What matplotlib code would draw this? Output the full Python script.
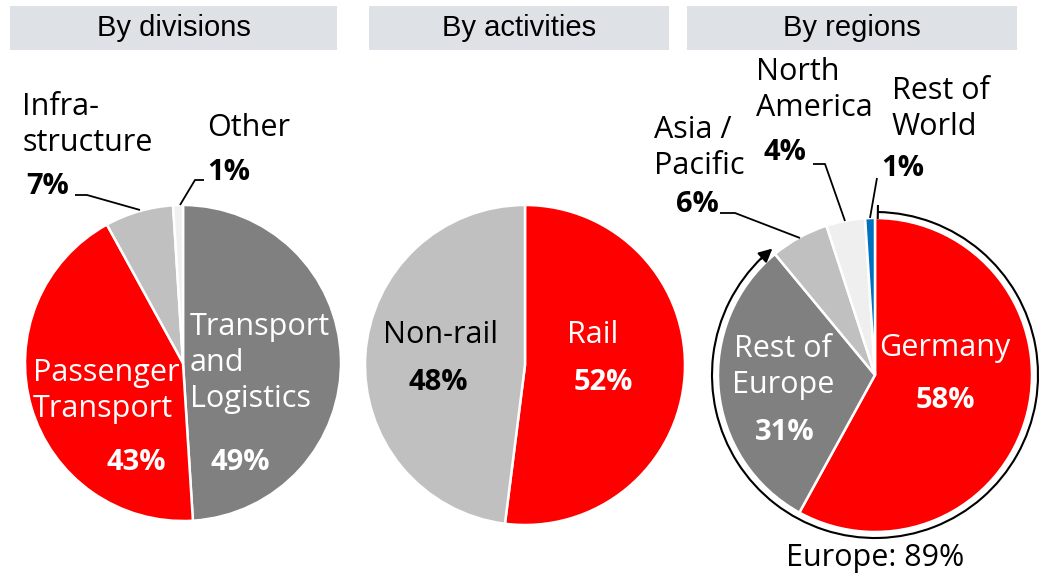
import matplotlib.pyplot as plt
from matplotlib.patches import Rectangle, Arc
import numpy as np

W, H = 1041, 576

# data
titles = ['By divisions', 'By activities', 'By regions']

div_labels = ['Transport and Logistics', 'Passenger Transport', 'Infrastructure', 'Other']
div_values = [49, 43, 7, 1]
div_colors = ['#808080', '#ff0000', '#c0c0c0', '#f0f0f0']

act_labels = ['Rail', 'Non-rail']
act_values = [52, 48]
act_colors = ['#ff0000', '#c0c0c0']

reg_labels = ['Germany', 'Rest of Europe', 'Asia / Pacific', 'North America', 'Rest of World']
reg_values = [58, 31, 6, 4, 1]
reg_colors = ['#ff0000', '#808080', '#c0c0c0', '#efefef', '#0070c0']
europe_share = 89

plt.rcParams['font.family'] = ['Open Sans', 'DejaVu Sans']

fig = plt.figure(figsize=(W / 100, H / 100), dpi=100)
ax = fig.add_axes([0, 0, 1, 1])


def Y(p):
    return H - p


def txt(x, y, s, color='black', bold=False, ha='center', size=None):
    if size is None:
        size = 21 if bold else 22
    ax.text(x, Y(y), s, color=color, ha=ha, va='center', fontsize=size,
            fontweight='bold' if bold else 'normal', linespacing=1.25)


def leader(pts):
    xs = [p[0] for p in pts]
    ys = [Y(p[1]) for p in pts]
    ax.plot(xs, ys, color='black', lw=1.3, solid_capstyle='butt')


# title boxes
for (x0, x1), t in zip([(10, 337), (369, 669), (687, 1017)], titles):
    ax.add_patch(Rectangle((x0, Y(50)), x1 - x0, 44, color='#dee1e5', lw=0))
    ax.text((x0 + x1) / 2, Y(28), t, ha='center', va='center', fontsize=21,
            family=['Liberation Sans Narrow', 'Liberation Sans', 'DejaVu Sans'])

wp = dict(edgecolor='white', linewidth=1.8)

# pie 1 - divisions
ax.pie(div_values, colors=div_colors, startangle=90, counterclock=False,
       center=(183, Y(363)), radius=158, wedgeprops=wp, frame=True)
# pie 2 - activities
ax.pie(act_values, colors=act_colors, startangle=90, counterclock=False,
       center=(525, Y(365)), radius=160, wedgeprops=wp, frame=True)
# pie 3 - regions
c3 = (875, Y(375))
ax.pie(reg_values, colors=reg_colors, startangle=90, counterclock=False,
       center=c3, radius=157, wedgeprops=wp, frame=True)

ax.set_xlim(0, W)
ax.set_ylim(0, H)
ax.set_aspect('equal')
ax.axis('off')

# labels pie 1
txt(190, 363, 'Transport\nand\nLogistics', color='white', ha='left')
txt(240, 462, '%d%%' % div_values[0], color='white', bold=True)
txt(33, 391, 'Passenger\nTransport', color='white', ha='left')
txt(136, 462, '%d%%' % div_values[1], color='white', bold=True)
txt(22, 125, 'Infra-\nstructure', ha='left')
txt(48, 186, '%d%%' % div_values[2], bold=True)
txt(207, 128, div_labels[3], ha='left')
txt(229, 172, '%d%%' % div_values[3], bold=True)
leader([(75, 195), (87, 195), (140, 210)])
leader([(204, 180), (195, 180), (180, 205)])

# labels pie 2
txt(593, 335, act_labels[0], color='white')
txt(603, 383, '%d%%' % act_values[0], color='white', bold=True)
txt(440, 335, act_labels[1])
txt(438, 383, '%d%%' % act_values[1], bold=True)

# labels pie 3
txt(945, 348, reg_labels[0], color='white')
txt(945, 400, '%d%%' % reg_values[0], color='white', bold=True)
txt(783, 367, 'Rest of\nEurope', color='white')
txt(785, 432, '%d%%' % reg_values[1], color='white', bold=True)
txt(654, 148, 'Asia /\nPacific', ha='left')
txt(697, 205, '%d%%' % reg_values[2], bold=True)
txt(756, 90, 'North\nAmerica', ha='left')
txt(785, 153, '%d%%' % reg_values[3], bold=True)
txt(892, 109, 'Rest of\nWorld', ha='left')
txt(903, 168, '%d%%' % reg_values[4], bold=True)
leader([(720, 213), (735, 213), (800, 238)])
leader([(813, 164), (825, 164), (845, 221)])
leader([(877, 178), (870, 218)])

# Europe arc
ra = 163
end_ang = 90 - europe_share * 3.6
ax.add_patch(Arc(c3, 2 * ra, 2 * ra, theta1=end_ang + 360 + 4, theta2=89,
                 color='black', lw=1.5))
tick_a = np.deg2rad(89)
ax.plot([c3[0] + (ra - 6) * np.cos(tick_a), c3[0] + (ra + 6) * np.cos(tick_a)],
        [c3[1] + (ra - 6) * np.sin(tick_a), c3[1] + (ra + 6) * np.sin(tick_a)],
        color='black', lw=1.5)
a0 = np.deg2rad(end_ang + 360 + 6)
a1 = np.deg2rad(end_ang + 360 - 1.5)
ax.annotate('', xy=(c3[0] + ra * np.cos(a1), c3[1] + ra * np.sin(a1)),
            xytext=(c3[0] + ra * np.cos(a0), c3[1] + ra * np.sin(a0)),
            arrowprops=dict(arrowstyle='-|>,head_length=0.8,head_width=0.4',
                            color='black', lw=1.5))
txt(875, 558, 'Europe: %d%%' % europe_share)

fig.savefig('out.png', dpi=100)
